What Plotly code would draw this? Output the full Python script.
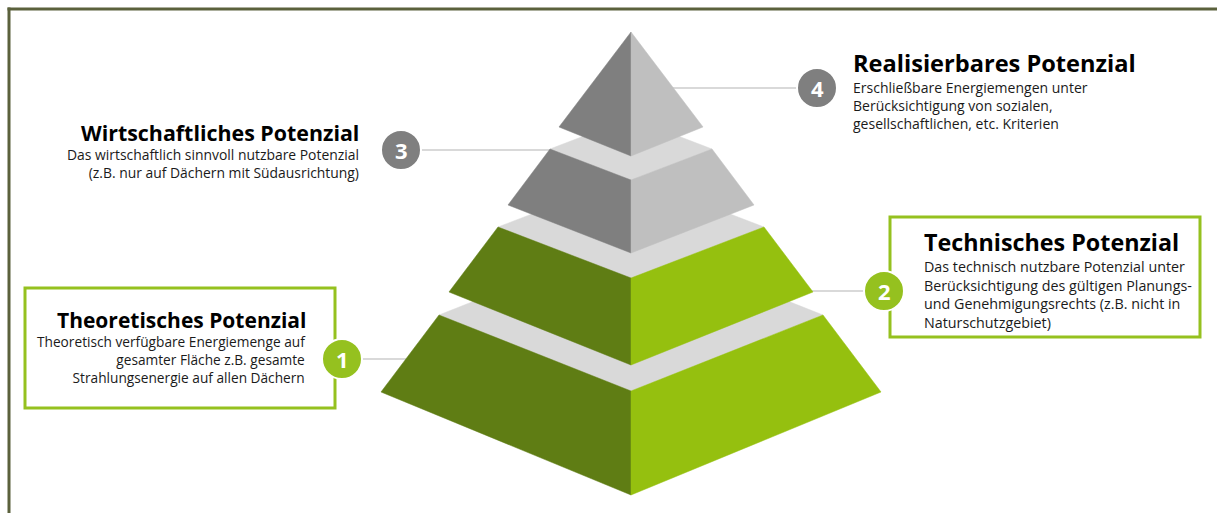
import plotly.graph_objects as go

W, H = 1217, 513

# ---- Pyramid tiers (bottom -> top) ----
tier_numbers = ["1", "2", "3", "4"]
tier_titles = [
    "Theoretisches Potenzial",
    "Technisches Potenzial",
    "Wirtschaftliches Potenzial",
    "Realisierbares Potenzial",
]
tier_texts = [
    ["Theoretisch verfügbare Energiemenge auf",
     "gesamter Fläche z.B. gesamte",
     "Strahlungsenergie auf allen Dächern"],
    ["Das technisch nutzbare Potenzial unter",
     "Berücksichtigung des gültigen Planungs-",
     "und Genehmigungsrechts (z.B. nicht in",
     "Naturschutzgebiet)"],
    ["Das wirtschaftlich sinnvoll nutzbare Potenzial",
     "(z.B. nur auf Dächern mit Südausrichtung)"],
    ["Erschließbare Energiemengen unter",
     "Berücksichtigung von sozialen,",
     "gesellschaftlichen, etc. Kriterien"],
]
tier_top_y = [315, 227, 149, 32]
tier_bottom_y = [392, 292, 205, 127]
tier_top_halfwidth = [192, 133, 81, 0]
tier_bottom_halfwidth = [250, 182, 123, 72]
tier_top_depth = [76, 51, 31, 0]
tier_bottom_depth = [103, 73, 48, 29]
center_x = 631

left_face_colors = ["#5f7d14", "#5f7d14", "#7f7f7f", "#7f7f7f"]
right_face_colors = ["#95c00f", "#95c00f", "#bfbfbf", "#bfbfbf"]
top_face_color = "#d9d9d9"

# ---- Callouts ----
badge_x = [342, 884, 401, 817]
badge_y = [359, 291, 150, 88]
badge_colors = ["#95c11f", "#95c11f", "#7f7f7f", "#7f7f7f"]
text_side = ["right", "left", "right", "left"]
title_anchor_x = [307.5, 921.5, 360.5, 850.5]
title_baseline = [327, 250, 140, 71.5]
title_font_size = [21.0, 23.3, 21.4, 23.6]
desc_baseline = [346, 271, 159.3, 91.5]
desc_font_size = [13.7, 14.3, 13.9, 14.0]
box_x0 = [25, 890, None, None]
box_x1 = [335, 1200, None, None]
box_y0 = [288, 217, None, None]
box_y1 = [408, 337, None, None]

ASC = 1.069  # Open Sans ascender

fig = go.Figure()

# callout lines (behind pyramid)
for i in range(4):
    fig.add_trace(go.Scatter(
        x=[badge_x[i], center_x], y=[badge_y[i], badge_y[i]],
        mode="lines", line=dict(color="#d9d9d9", width=2),
        hoverinfo="skip", showlegend=False))

# pyramid
for i in range(4):
    t, b = tier_top_y[i], tier_bottom_y[i]
    th, bh = tier_top_halfwidth[i], tier_bottom_halfwidth[i]
    dt, db = tier_top_depth[i], tier_bottom_depth[i]
    if th > 0:
        fig.add_trace(go.Scatter(
            x=[center_x - th, center_x, center_x + th, center_x, center_x - th],
            y=[t, t - dt, t, t + dt, t],
            mode="lines", fill="toself", fillcolor=top_face_color,
            line=dict(color=top_face_color, width=0.5),
            hoverinfo="skip", showlegend=False))
    fig.add_trace(go.Scatter(
        x=[center_x - th, center_x, center_x, center_x - bh, center_x - th],
        y=[t, t + dt, b + db, b, t],
        mode="lines", fill="toself", fillcolor=left_face_colors[i],
        line=dict(color=left_face_colors[i], width=0.5),
        hoverinfo="skip", showlegend=False))
    fig.add_trace(go.Scatter(
        x=[center_x + th, center_x, center_x, center_x + bh, center_x + th],
        y=[t, t + dt, b + db, b, t],
        mode="lines", fill="toself", fillcolor=right_face_colors[i],
        line=dict(color=right_face_colors[i], width=0.5),
        hoverinfo="skip", showlegend=False))

# badges
fig.add_trace(go.Scatter(
    x=badge_x, y=badge_y, mode="markers",
    marker=dict(size=40, color=badge_colors, line=dict(color="white", width=2)),
    hoverinfo="skip", showlegend=False))

shapes = [
    dict(type="line", xref="x", yref="y", x0=7.5, x1=W + 5, y0=9, y1=9,
         line=dict(color="#5b613c", width=3), layer="below"),
    dict(type="line", xref="x", yref="y", x0=9, x1=9, y0=7.5, y1=H + 5,
         line=dict(color="#5b613c", width=3), layer="below"),
]
for i in range(4):
    if box_x0[i] is not None:
        shapes.append(dict(type="rect", xref="x", yref="y",
                           x0=box_x0[i], x1=box_x1[i], y0=box_y0[i], y1=box_y1[i],
                           line=dict(color="#95c11f", width=3), fillcolor="white",
                           layer="below"))

annotations = []
for i in range(4):
    tfs, dfs = title_font_size[i], desc_font_size[i]
    annotations.append(dict(
        x=title_anchor_x[i], y=title_baseline[i] - 1 - ASC * tfs,
        xref="x", yref="y", xanchor=text_side[i], yanchor="top",
        text=tier_titles[i], showarrow=False, align=text_side[i],
        font=dict(family="Open Sans", size=tfs, color="#000000", weight=700)))
    annotations.append(dict(
        x=title_anchor_x[i], y=desc_baseline[i] - 1 - ASC * dfs,
        xref="x", yref="y", xanchor=text_side[i], yanchor="top",
        text="<br>".join(tier_texts[i]), showarrow=False, align=text_side[i],
        font=dict(family="Open Sans", size=dfs, color="#1a1a1a")))
    annotations.append(dict(
        x=badge_x[i], y=badge_y[i], xref="x", yref="y",
        xanchor="center", yanchor="middle", text=tier_numbers[i], showarrow=False,
        font=dict(family="Open Sans", size=22, color="white", weight=700)))

fig.update_layout(
    width=W, height=H,
    margin=dict(l=0, r=0, t=0, b=0),
    paper_bgcolor="white", plot_bgcolor="white",
    xaxis=dict(range=[0, W], visible=False, fixedrange=True),
    yaxis=dict(range=[H, 0], visible=False, fixedrange=True),
    shapes=shapes, annotations=annotations,
)

fig.write_html("out.html", config={"displayModeBar": False},
               post_script="document.body.style.margin='0';document.body.style.overflow='hidden';")
